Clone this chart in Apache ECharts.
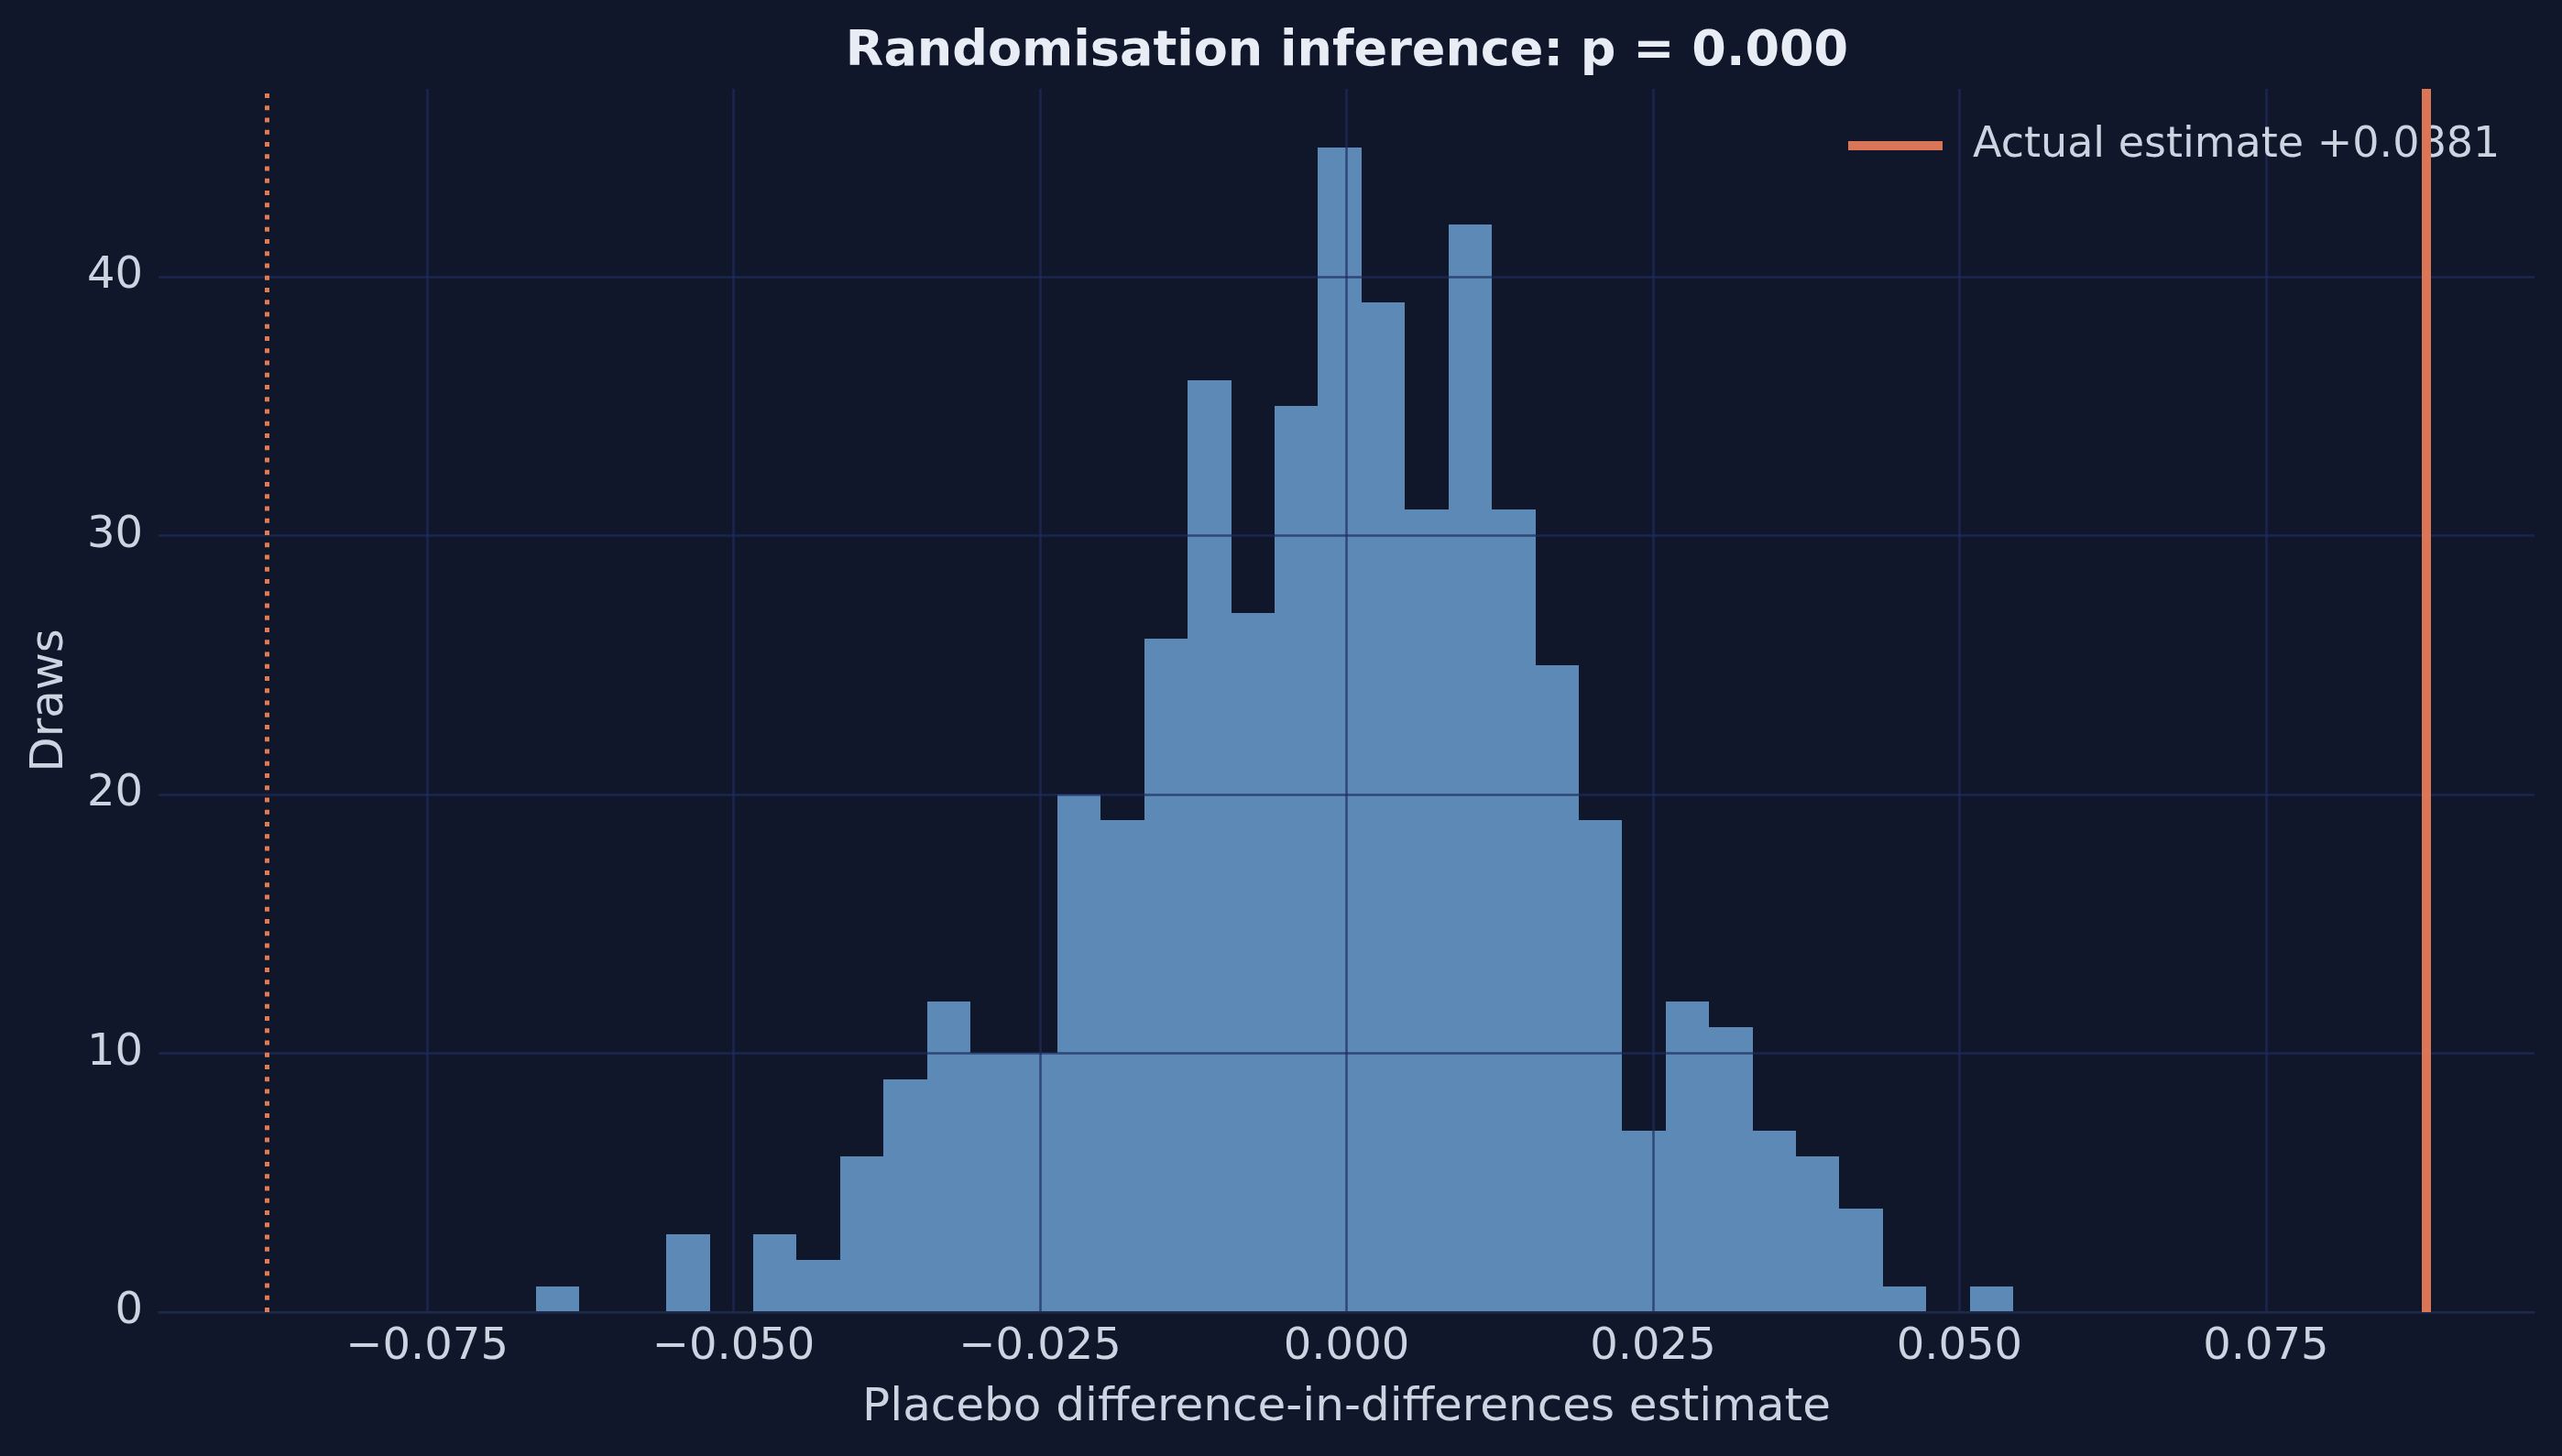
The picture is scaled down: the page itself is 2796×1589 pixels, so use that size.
<!DOCTYPE html>
<html>
<head>
<meta charset="utf-8">
<script src="https://cdn.jsdelivr.net/npm/echarts@6/dist/echarts.min.js"></script>
<style>
  html, body { margin: 0; padding: 0; background: #10172a; }
  #chart { width: 2796px; height: 1589px; }
</style>
</head>
<body>
<div id="chart"></div>
<script>
// ---- data ----
const binEdges = [
  -0.06612, -0.06258, -0.05903, -0.05549, -0.05194, -0.04840, -0.04485, -0.04131,
  -0.03776, -0.03422, -0.03068, -0.02713, -0.02359, -0.02004, -0.01650, -0.01295,
  -0.00941, -0.00587, -0.00232, 0.00122, 0.00477, 0.00831, 0.01186, 0.01540,
  0.01895, 0.02249, 0.02603, 0.02958, 0.03312, 0.03667, 0.04021, 0.04376,
  0.04730, 0.05084, 0.05439
];
const drawCounts = [
  1, 0, 0, 3, 0, 3, 2, 6, 9, 12, 10, 10, 20, 19, 26, 36, 27,
  35, 45, 39, 31, 42, 31, 25, 19, 7, 12, 11, 7, 6, 4, 1, 0, 1
];
const actualEstimate = 0.0881;
const mirroredEstimate = -0.0881;
const xTickValues = [-0.075, -0.05, -0.025, 0, 0.025, 0.05, 0.075];
const yTickValues = [0, 10, 20, 30, 40];
const xRange = [-0.09691, 0.09691];
const yRange = [0, 47.25];
const pValue = 0.000;

// ---- styling ----
const FONT = 'DejaVu Sans';
const BG = '#10172a';
const BAR = '#5c89b6';
const GRID = 'rgba(30,45,95,0.72)';
const TEXT = '#cbd5e1';
const ORANGE_SOLID = '#da7656';
const ORANGE_DOT = '#e37b52';

const histData = drawCounts.map((c, i) => [binEdges[i], binEdges[i + 1], c]);
const legendName = 'Actual estimate +' + actualEstimate.toFixed(4);

const fmtX = v => (v < 0 ? '\u2212' : '') + Math.abs(v).toFixed(3);

const chart = echarts.init(document.getElementById('chart'), null, { renderer: 'canvas' });
chart.setOption({
  backgroundColor: BG,
  animation: false,
  title: {
    text: 'Randomisation inference: p = ' + pValue.toFixed(3),
    left: 1470,
    top: 30,
    textAlign: 'center',
    padding: 0,
    textStyle: { fontFamily: FONT, fontSize: 54, fontWeight: 'bold', color: '#e8edf5', lineHeight: 54 }
  },
  legend: {
    left: 2017,
    top: 131,
    padding: 0,
    selectedMode: false,
    itemWidth: 103,
    itemHeight: 10,
    data: [{ name: legendName, icon: 'rect', itemStyle: { color: ORANGE_SOLID } }],
    textStyle: { fontFamily: FONT, fontSize: 46, color: TEXT, lineHeight: 56, padding: [0, 0, 0, 28] }
  },
  grid: { left: 173, right: 30, top: 97, bottom: 157, containLabel: false },
  xAxis: {
    type: 'value',
    min: xRange[0],
    max: xRange[1],
    z: 3,
    name: 'Placebo difference-in-differences estimate',
    nameLocation: 'middle',
    nameGap: 80,
    nameTextStyle: { fontFamily: FONT, fontSize: 50, color: TEXT, lineHeight: 50 },
    axisLine: { show: true, lineStyle: { color: '#1e2a44', width: 2 } },
    axisTick: { show: false, customValues: xTickValues },
    axisLabel: {
      customValues: xTickValues,
      formatter: fmtX,
      margin: 15,
      fontFamily: FONT, fontSize: 48, color: TEXT, lineHeight: 48
    },
    splitLine: { show: true, lineStyle: { color: GRID, width: 2.5 } }
  },
  yAxis: {
    type: 'value',
    min: yRange[0],
    max: yRange[1],
    z: 3,
    name: 'Draws',
    nameLocation: 'middle',
    nameGap: 93,
    nameTextStyle: { fontFamily: FONT, fontSize: 50, color: TEXT, lineHeight: 50 },
    axisLine: { show: false },
    axisTick: { show: false, customValues: yTickValues },
    axisLabel: {
      customValues: yTickValues,
      margin: 17,
      fontFamily: FONT, fontSize: 48, color: TEXT
    },
    splitLine: { show: true, lineStyle: { color: GRID, width: 2.5 } }
  },
  series: [
    {
      type: 'custom',
      name: 'Placebo draws',
      z: 2,
      silent: true,
      encode: { x: [0, 1], y: 2 },
      data: histData,
      renderItem: (params, api) => {
        const x0 = api.value(0), x1 = api.value(1), c = api.value(2);
        if (!c) return null;
        const pTop = api.coord([x0, c]);
        const pBot = api.coord([x1, 0]);
        const left = Math.round(pTop[0]);
        const right = Math.round(pBot[0]);
        const top = Math.round(pTop[1]);
        const bottom = Math.round(pBot[1]);
        return {
          type: 'rect',
          shape: { x: left, y: top, width: right - left, height: bottom - top },
          style: { fill: BAR, lineWidth: 0 }
        };
      }
    },
    {
      type: 'line',
      name: legendName,
      z: 6,
      data: [],
      itemStyle: { color: ORANGE_SOLID },
      lineStyle: { color: ORANGE_SOLID, width: 10 },
      markLine: {
        silent: true,
        symbol: 'none',
        precision: 6,
        z: 6,
        label: { show: false },
        emphasis: { disabled: true },
        data: [
          { xAxis: actualEstimate, lineStyle: { color: ORANGE_SOLID, width: 10, type: 'solid' } },
          { xAxis: mirroredEstimate, lineStyle: { color: ORANGE_DOT, width: 5, type: [5, 8.25] } }
        ]
      }
    }
  ]
});
</script>
</body>
</html>
